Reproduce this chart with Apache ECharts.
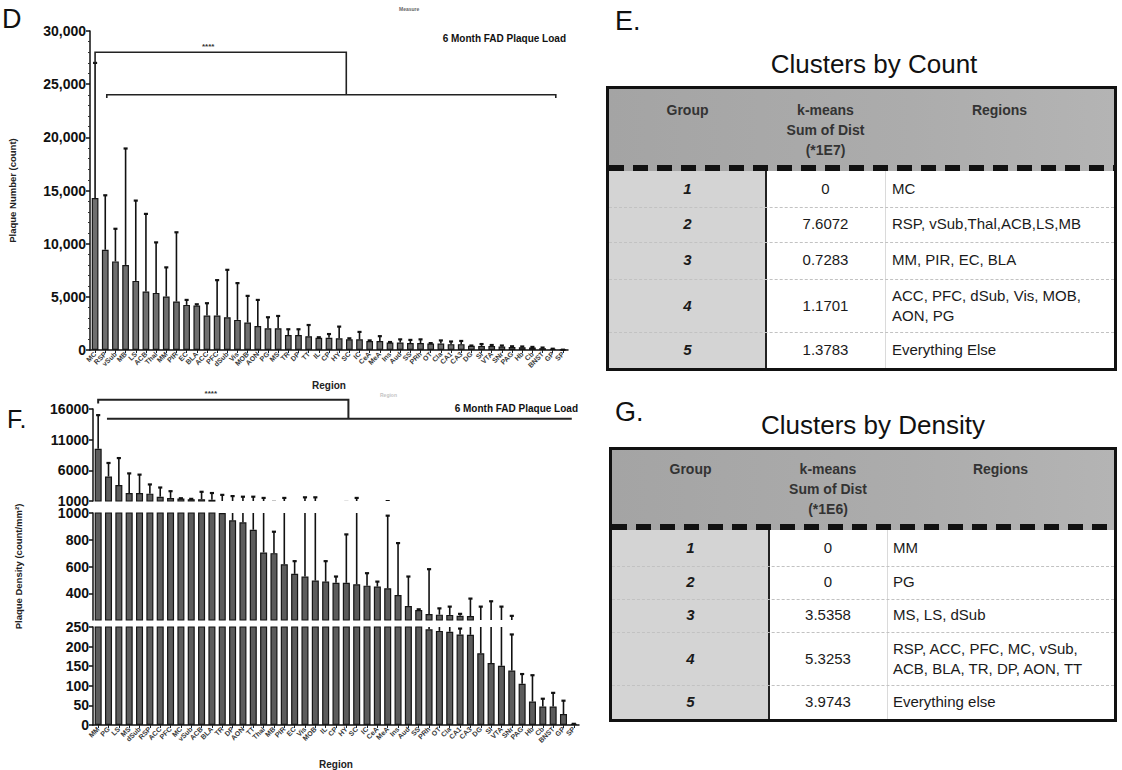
<!DOCTYPE html>
<html>
<head>
<meta charset="utf-8">
<script src="https://cdn.jsdelivr.net/npm/echarts@6/dist/echarts.min.js"></script>
<style>
  html, body { margin: 0; padding: 0; background: #fff; }
  #chart { position: absolute; left: 0; top: 0; width: 1122px; height: 770px; }
  .txt { position: absolute; font-family: "Liberation Sans", Arial, Helvetica, sans-serif; color: #111; white-space: pre; }
  .tbl { position: absolute; box-sizing: border-box; border: 3px solid #111; background: #fff;
         font-family: "Liberation Sans", Arial, Helvetica, sans-serif; }
  .tbl div { position: absolute; box-sizing: border-box; }
  .hcell { text-align: center; font-weight: bold; font-size: 14px; line-height: 20px; color: #333; white-space: pre; }
  .bcell { display: flex; align-items: center; font-size: 15px; line-height: 20px; color: #1a1a1a; white-space: pre; }
</style>
</head>
<body>
<div id="chart"></div>
<script>
// ---- data: panel D (plaque count) ----
const regionsD = ['MC','RSP','vSub','MB','LS','ACB','Thal','MM','PIR','EC','BLA','ACC','PFC','dSub','Vis','MOB','AON','PG',
  'MS','TR','DP','TT','IL','CP','HY','SC','IC','CeA','MeA','Ins','Aud','SS','PRh','OT','Cla','CA1','CA3','DG','SI','VTA',
  'SNr','PAG','Hb','Cb','BNST','GP','SP'];
const meanD = [14300, 9430, 8330, 8000, 6500, 5500, 5370, 5030, 4560, 4240, 4180, 3240, 3240, 3080, 2830, 2580, 2260, 2040,
  2040, 1400, 1400, 1300, 1150, 1150, 1100, 1000, 1000, 850, 850, 700, 700, 650, 650, 600, 600, 550, 550, 400, 380, 370,
  320, 280, 260, 230, 170, 100, 30];
const errD = [27000, 14550, 11400, 18950, 14050, 12800, 10120, 7770, 11070, 4710, 4300, 4400, 6570, 7540, 6290, 5090, 4710, 3080,
  3200, 1950, 1950, 2350, 1200, 1500, 2200, 1100, 1700, 900, 1300, 750, 1000, 950, 1000, 650, 900, 800, 850, 420, 560, 470,
  420, 350, 330, 290, 230, 120, 30];
const ticksD = [0, 30000, 5000];

// ---- data: panel F (plaque density) ----
const regionsF = ['MM','PG','LS','MS','dSub','RSP','ACC','PFC','MC','vSub','ACB','BLA','TR','DP','AON','TT',
  'Thal','MB','PIR','EC','Vis','MOB','IL','CP','HY','SC','IC','CeA','MeA','Ins','Aud','SS','PRh','OT','Cla','CA1','CA3',
  'DG','SI','VTA','SNr','PAG','Hb','Cb','BNST','GP','SP'];
const meanF = [9500, 5000, 3600, 2300, 2300, 2200, 1700, 1500, 1400, 1300, 1300, 1200, 1000, 945, 930, 875,
  705, 700, 617, 545, 525, 495, 487, 478, 478, 467, 457, 450, 437, 387, 305, 275, 244, 240, 238, 231, 230,
  183, 158, 151, 139, 105, 60, 47, 47, 28, 3];
const errF = [15000, 7200, 8000, 5500, 5300, 3700, 3200, 2600, 1450, 1350, 2500, 2300, 2000, 1800, 1700, 1700,
  1500, 860, 1500, 640, 1600, 1600, 640, 525, 840, 1500, 550, 487, 980, 775, 525, 280, 580, 287, 300, 246, 360,
  300, 340, 300, 231, 130, 127, 67, 82, 62, 3];
// segmented y axis of F: [min, max, interval] per segment, top to bottom
const segHigh = [1000, 16000, 5000];
const segMid = [200, 1000, 200];
const segLow = [0, 250, 50];

// significance brackets (category index / data value)
const bracketD = { leftIdx: 0, leftDrop: 27000, rightIdx: 24.7, top: 28000, low: 24000, fromIdx: 1.15, toIdx: 45.3, endDrop: 23700 };
const bracketF = { leftIdx: 0, leftDrop: 16900, rightIdx: 24.2, top: 17500, low: 14400, fromIdx: 0.85, toIdx: 45.8, endDrop: 14400 };

// ---- data: cluster tables ----
const tableHeadCount = ['Group', 'k-means\nSum of Dist\n(*1E7)', 'Regions'];
const countGroups = ['1', '2', '3', '4', '5'];
const countSums = ['0', '7.6072', '0.7283', '1.1701', '1.3783'];
const countRegions = ['MC', 'RSP, vSub,Thal,ACB,LS,MB', 'MM, PIR, EC, BLA', 'ACC, PFC, dSub, Vis, MOB,\nAON, PG', 'Everything Else'];

const tableHeadDensity = ['Group', 'k-means\nSum of Dist\n(*1E6)', 'Regions'];
const densityGroups = ['1', '2', '3', '4', '5'];
const densitySums = ['0', '0', '3.5358', '5.3253', '3.9743'];
const densityRegions = ['MM', 'PG', 'MS, LS, dSub', 'RSP, ACC, PFC, MC, vSub,\nACB, BLA, TR, DP, AON, TT', 'Everything else'];

const FONT = '"Liberation Sans", Arial, Helvetica, sans-serif';

// ---------- tables (HTML) ----------
function addText(text, left, top, size, extra) {
  const el = document.createElement('div');
  el.className = 'txt';
  el.textContent = text;
  el.style.cssText += `left:${left}px;top:${top}px;font-size:${size}px;line-height:${Math.round(size * 1.15)}px;` + (extra || '');
  document.body.appendChild(el);
  return el;
}

function block(parent, cls, x, y, w, h, css) {
  const el = document.createElement('div');
  if (cls) el.className = cls;
  el.style.cssText += `left:${x}px;top:${y}px;width:${w}px;height:${h}px;` + (css || '');
  parent.appendChild(el);
  return el;
}

function makeTable(box, head, groups, sums, regions) {
  const t = document.createElement('div');
  t.className = 'tbl';
  t.style.cssText = `left:${box.left}px;top:${box.top}px;width:${box.width}px;height:${box.height}px;`;
  document.body.appendChild(t);
  const innerW = box.width - 6, innerH = box.height - 6;
  const c1 = box.col1, c2 = box.col2, c3 = innerW - c1 - c2;
  const hh = box.headH;
  block(t, null, 0, 0, innerW, hh, 'background:linear-gradient(90deg,#a4a4a4,#acacac 60%,#b4b4b4);');
  block(t, null, 0, hh, c1, innerH - hh, 'background:#d4d4d4;');
  block(t, null, c1 - 1, hh, 2, innerH - hh, 'background:#222;');
  block(t, null, c1 + c2, hh, 1, innerH - hh, 'background:#dadada;');
  block(t, null, 0, hh - 6, innerW, 6,
    'background:repeating-linear-gradient(90deg,#111 0 15px,transparent 15px 24px);');
  const cols = [[0, c1], [c1, c2], [c1 + c2, c3]];
  head.forEach((h, k) => {
    const c = block(t, 'hcell', cols[k][0], 0, cols[k][1], hh - 6, `padding-top:${box.headPad}px;`);
    c.textContent = h;
  });
  let y = hh;
  box.rows.forEach((rh, r) => {
    if (r > 0) block(t, null, 0, y, innerW, 1, 'border-top:1px dashed #c2c2c2;');
    const g = block(t, 'bcell', 0, y, c1, rh, 'justify-content:center;font-weight:bold;font-style:italic;');
    g.textContent = groups[r];
    const s = block(t, 'bcell', c1, y, c2, rh, 'justify-content:center;');
    s.textContent = sums[r];
    const rg = block(t, 'bcell', c1 + c2, y, c3, rh, `padding-left:${box.regPad}px;`);
    rg.textContent = regions[r];
    y += rh;
  });
}

addText('E.', 615, 6, 27);
addText('Clusters by Count', 874, 49, 26, 'transform:translateX(-50%);');
makeTable({ left: 606, top: 86, width: 511, height: 285, col1: 157, col2: 119, headH: 82, headPad: 11, regPad: 7,
  rows: [36, 34.5, 37.5, 53, 36] }, tableHeadCount, countGroups, countSums, countRegions);

addText('G.', 615, 397, 27);
addText('Clusters by Density', 873, 410, 26, 'transform:translateX(-50%);');
makeTable({ left: 609, top: 447, width: 508, height: 275, col1: 157, col2: 118, headH: 80, headPad: 9, regPad: 6,
  rows: [36, 32.5, 33.5, 53, 34] }, tableHeadDensity, densityGroups, densitySums, densityRegions);

// ---------- charts (ECharts) ----------
const chart = echarts.init(document.getElementById('chart'), null, { renderer: 'svg' });

const axisLine = { show: true, lineStyle: { color: '#111', width: 1.5 } };
const tickStyle = { show: true, length: 4, lineStyle: { color: '#111', width: 1.5 } };
const yLabel = { fontSize: 14, fontWeight: 'bold', color: '#111', fontFamily: FONT, margin: 4, formatter: v => String(v) };

function catAxis(gridIndex, data, show, extra) {
  return Object.assign({
    gridIndex, type: 'category', data, show,
    axisLine, axisTick: { show: true, length: 3, alignWithLabel: true, lineStyle: { color: '#222' } },
    axisLabel: { interval: 0, rotate: 45, fontSize: 7, fontWeight: 'bold', color: '#3a3a3a', fontFamily: FONT, margin: 3 }
  }, extra || {});
}

function valAxis(gridIndex, seg, extra) {
  return Object.assign({
    gridIndex, type: 'value', min: seg[0], max: seg[1], interval: seg[2],
    axisLine, axisTick: tickStyle, splitLine: { show: false }, axisLabel: Object.assign({}, yLabel)
  }, extra || {});
}

function errorItem(params, api) {
  const base = api.coord([api.value(0), api.value(1)]);
  const top = api.coord([api.value(0), api.value(2)]);
  const half = api.size([1, 0])[0] * 0.2;
  return {
    type: 'group',
    children: [
      { type: 'line', shape: { x1: base[0], y1: base[1], x2: top[0], y2: top[1] }, style: { stroke: '#111', lineWidth: 1.6 } },
      { type: 'line', shape: { x1: top[0] - half, y1: top[1], x2: top[0] + half, y2: top[1] }, style: { stroke: '#111', lineWidth: 2.2 } }
    ]
  };
}

function bracketItem(b, width) {
  return function (params, api) {
    const step = api.size([1, 0])[0];
    const x0 = api.coord([0, 0])[0];
    const X = idx => x0 + idx * step;
    const Y = v => api.coord([0, v])[1];
    const style = { stroke: '#222', lineWidth: width, fill: null };
    const starIdx = b.leftIdx + (b.rightIdx - b.leftIdx) * 0.45;
    return {
      type: 'group',
      children: [
        { type: 'polyline', shape: { points: [[X(b.leftIdx), Y(b.leftDrop)], [X(b.leftIdx), Y(b.top)], [X(b.rightIdx), Y(b.top)], [X(b.rightIdx), Y(b.low)]] }, style },
        { type: 'polyline', shape: { points: [[X(b.fromIdx), Y(b.endDrop)], [X(b.fromIdx), Y(b.low)], [X(b.toIdx), Y(b.low)], [X(b.toIdx), Y(b.endDrop)]] }, style },
        { type: 'text', x: X(starIdx), y: Y(b.top) - 2, style: { text: '****', fontSize: 8, fontWeight: 'bold', fill: '#333', align: 'center', verticalAlign: 'bottom', fontFamily: FONT } }
      ]
    };
  };
}

const barD = { color: '#6f6f6f', borderColor: '#151515', borderWidth: 1.2 };
const barF = { color: '#5c5c5c', borderColor: '#151515', borderWidth: 1.2 };
const errDataD = meanD.map((m, i) => [i, m, errD[i]]);
const errDataF = meanF.map((m, i) => [i, m, errF[i]]);

const series = [
  { type: 'bar', xAxisIndex: 0, yAxisIndex: 0, data: meanD, barWidth: '66%', itemStyle: barD, z: 2 },
  { type: 'custom', xAxisIndex: 0, yAxisIndex: 0, data: errDataD, renderItem: errorItem, z: 3 },
  { type: 'custom', xAxisIndex: 0, yAxisIndex: 0, data: [[0]], renderItem: bracketItem(bracketD, 1.6), clip: false, z: 4 }
];
[1, 2, 3].forEach(k => {
  series.push({ type: 'bar', xAxisIndex: k, yAxisIndex: k, data: meanF, barWidth: '68%', itemStyle: barF, clip: true, z: 2 });
  series.push({ type: 'custom', xAxisIndex: k, yAxisIndex: k, data: errDataF, renderItem: errorItem, clip: true, z: 3 });
});
series.push({ type: 'custom', xAxisIndex: 1, yAxisIndex: 1, data: [[0]], renderItem: bracketItem(bracketF, 2), clip: false, z: 4 });

const ttl = (text, pos, size, weight, color) => Object.assign({
  text, padding: 0,
  textStyle: { fontSize: size, fontWeight: weight, color: color || '#111', fontFamily: FONT }
}, pos);

chart.setOption({
  animation: false,
  title: [
    ttl('D', { left: 2, top: 5 }, 27, 'normal'),
    ttl('F.', { left: 7, top: 406 }, 25, 'normal'),
    ttl('6 Month FAD Plaque Load', { right: 556, top: 33 }, 10, 'bold'),
    ttl('6 Month FAD Plaque Load', { right: 544, top: 403 }, 10, 'bold'),
    ttl('Measure', { left: 399, top: 6 }, 5, 'bold', '#666'),
    ttl('Region', { left: 380, top: 392 }, 5, 'bold', '#c4c4c4')
  ],
  grid: [
    { left: 90, top: 31, width: 478, height: 319 },
    { left: 93, top: 409, width: 486, height: 92 },
    { left: 93, top: 513, width: 486, height: 107 },
    { left: 93, top: 627, width: 486, height: 100 }
  ],
  xAxis: [
    catAxis(0, regionsD, true, { name: 'Region', nameLocation: 'middle', nameGap: 30,
      nameTextStyle: { fontSize: 10, fontWeight: 'bold', color: '#222', fontFamily: FONT } }),
    catAxis(1, regionsF, false),
    catAxis(2, regionsF, false),
    catAxis(3, regionsF, true, { name: 'Region', nameLocation: 'middle', nameGap: 34,
      nameTextStyle: { fontSize: 10, fontWeight: 'bold', color: '#222', fontFamily: FONT } })
  ],
  yAxis: [
    valAxis(0, ticksD, {
      minorTick: { show: true, splitNumber: 5, length: 2, lineStyle: { color: '#333' } },
      axisLabel: Object.assign({}, yLabel, { formatter: v => v.toLocaleString('en-US') }),
      name: 'Plaque Number (count)', nameLocation: 'middle', nameGap: 73,
      nameTextStyle: { fontSize: 9.5, fontWeight: 'bold', color: '#222', fontFamily: FONT }
    }),
    valAxis(1, segHigh),
    valAxis(2, segMid, {
      axisLabel: Object.assign({}, yLabel, { showMinLabel: false }),
      name: 'Plaque Density (count/mm²)', nameLocation: 'middle', nameGap: 70,
      nameTextStyle: { fontSize: 9.5, fontWeight: 'bold', color: '#222', fontFamily: FONT }
    }),
    valAxis(3, segLow)
  ],
  series
});
</script>
</body>
</html>
